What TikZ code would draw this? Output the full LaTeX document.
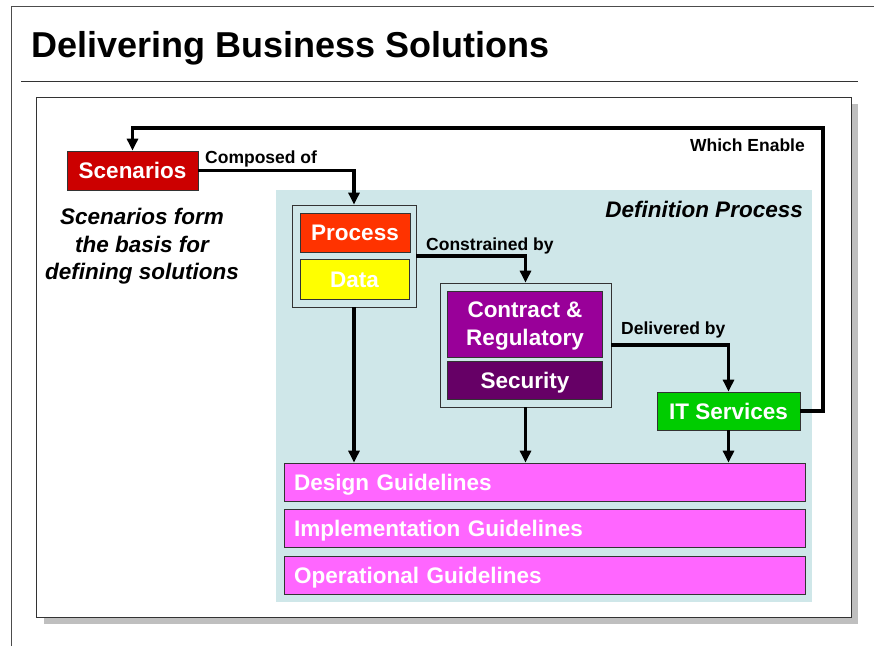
\documentclass[tikz,border=0pt]{standalone}
\usepackage{fontspec}
\setmainfont{Liberation Sans}
\usetikzlibrary{arrows.meta}
\definecolor{scenred}{HTML}{CC0000}
\definecolor{procred}{HTML}{FF3300}
\definecolor{datayellow}{HTML}{FFFF00}
\definecolor{contrpurple}{HTML}{990099}
\definecolor{secpurple}{HTML}{660066}
\definecolor{itgreen}{HTML}{00CC00}
\definecolor{guidepink}{HTML}{FF66FF}
\definecolor{defteal}{HTML}{CFE7E9}
\definecolor{shadowgray}{HTML}{BFBFBF}
\begin{document}
\begin{tikzpicture}[x=1pt, y=-1pt,
	box/.style={draw=black!80, line width=0.8pt, text=white, font=\bfseries\fontsize{22.5}{28}\selectfont, inner sep=0pt, align=center},
	onebox/.style={box, text height=18pt, text depth=2pt},
	grp/.style={draw=black!80, line width=0.8pt, fill=defteal, inner sep=0pt},
	guide/.style={onebox, fill=guidepink, minimum height=38pt, text width=501pt, align=left, inner xsep=10pt},
	link/.style={line width=3.2pt, -{Triangle[length=12pt,width=11pt]}},
	lbl/.style={font=\bfseries\fontsize{17.5}{20}\selectfont, inner sep=0pt}]
	\useasboundingbox (0,0) rectangle (874,646);
	\draw[black!70, line width=0.8pt] (11,646) -- (11,6) -- (874,6);
	\node[anchor=base west, inner sep=0pt, font=\bfseries\fontsize{36}{40}\selectfont] (title) at (31,57) {Delivering Business Solutions};
	\draw[black!80, line width=0.8pt] (21,81) -- (858,81);
	\fill[shadowgray] (44,104) rectangle (858,624);
	\draw[black!80, line width=0.8pt, fill=white] (36,97) rectangle (851,617);
	\fill[defteal] (276,190) rectangle (812,602);
	\node[anchor=base east, inner sep=0pt, font=\bfseries\itshape\fontsize{22.5}{27}\selectfont] (defproc) at (803,217) {Definition Process};
	\node[onebox, fill=scenred, minimum width=131pt, minimum height=39pt] (scen) at (132.5,170.5) {Scenarios};
	\node[font=\bfseries\itshape\fontsize{22.5}{27.5}\selectfont, align=center, inner sep=0pt] (note) at (142,246.5) {Scenarios form\\the basis for\\defining solutions};
	\node[grp, minimum width=124pt, minimum height=102pt] (grpA) at (354,256) {};
	\node[onebox, fill=procred, minimum width=110pt, minimum height=39pt] (proc) at (355,232.5) {Process};
	\node[onebox, fill=datayellow, minimum width=109pt, minimum height=40pt] (data) at (354.5,279) {Data};
	\node[grp, minimum width=171pt, minimum height=124pt] (grpB) at (525.5,345) {};
	\node[box, fill=contrpurple, minimum width=155pt, minimum height=66pt, text depth=0pt] (contr) at (525,324) {Contract \&\\Regulatory};
	\node[onebox, fill=secpurple, minimum width=155pt, minimum height=38pt] (sec) at (525,380) {Security};
	\node[onebox, fill=itgreen, minimum width=143pt, minimum height=38pt] (its) at (728.5,411) {IT Services};
	\node[guide] (des) at (544.5,482) {Design Guidelines};
	\node[guide] (impl) at (544.5,528.5) {Implementation Guidelines};
	\node[guide] (oper) at (544.5,575) {Operational Guidelines};
	\coordinate (turn) at (823,128);
	\draw[link] (scen.east) -| (grpA.north);
	\draw[link] (grpA.east) -| (grpB.north);
	\draw[link] (grpB.east) -| (its.north);
	\draw[link] (its.east) -| (turn) -| (scen.north);
	\draw[link] (grpA.south) -- (grpA.south |- des.north);
	\draw[link] (grpB.south) -- (grpB.south |- des.north);
	\draw[link] (its.south) -- (its.south |- des.north);
	\node[lbl, anchor=base west] (lblA) at (205,163) {Composed of};
	\node[lbl, anchor=base west] (lblB) at (426,250) {Constrained by};
	\node[lbl, anchor=base west] (lblC) at (621,334) {Delivered by};
	\node[lbl, anchor=base east] (lblD) at (805,151) {Which Enable};
\end{tikzpicture}
\end{document}
